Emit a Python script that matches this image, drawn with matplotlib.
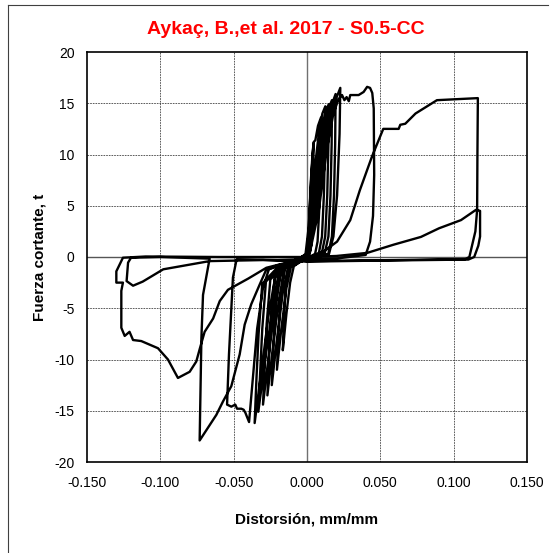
import matplotlib
matplotlib.use("Agg")
import matplotlib.pyplot as plt
from matplotlib.lines import Line2D

plt.rcParams['font.family'] = ['Liberation Sans', 'DejaVu Sans']

title = "Aykaç, B.,et al. 2017 - S0.5-CC"
x_label = "Distorsión, mm/mm"
y_label = "Fuerza cortante, t"
x_ticks = [-0.150, -0.100, -0.050, 0.000, 0.050, 0.100, 0.150]
y_ticks = [-20, -15, -10, -5, 0, 5, 10, 15, 20]

# ---- small cycles: positive loops (distortion, shear force) ----
pos1 = [(0.000, 0.3), (0.0012, 2.7), (0.0027, 7.6), (0.0038, 10.2), (0.0045, 11.1),
        (0.0043, 8.0), (0.0038, 4.0), (0.0030, 1.2), (0.0018, 0.3)]
pos2 = [(-0.001, 0.3), (0.0012, 3.0), (0.003, 8.0), (0.0045, 11.2), (0.0057, 11.4),
        (0.0075, 12.8), (0.0095, 13.6), (0.0093, 10.0), (0.0085, 5.0), (0.0072, 1.5), (0.0055, 0.3)]
pos3 = [(0.000, 0.3), (0.003, 4.0), (0.006, 9.5), (0.0085, 12.6), (0.0105, 14.0), (0.0125, 14.7),
        (0.0123, 11.0), (0.0115, 6.0), (0.0102, 2.0), (0.008, 0.3)]
pos4 = [(0.0005, 0.3), (0.004, 4.0), (0.0075, 9.8), (0.0105, 13.0), (0.0128, 14.2), (0.0148, 14.9),
        (0.0146, 11.0), (0.0138, 6.0), (0.0124, 2.0), (0.010, 0.3)]
pos5 = [(0.001, 0.3), (0.005, 4.2), (0.009, 10.0), (0.0125, 13.5), (0.015, 14.6), (0.017, 15.3),
        (0.0168, 11.0), (0.016, 6.0), (0.0146, 2.0), (0.012, 0.3)]
pos6 = [(0.001, 0.3), (0.006, 4.5), (0.0105, 10.3), (0.0145, 13.8), (0.0175, 15.1), (0.0195, 15.9),
        (0.0192, 11.0), (0.0184, 6.0), (0.017, 2.0), (0.0145, 0.3)]
pos7 = [(0.0015, 0.3), (0.006, 4.0), (0.0115, 10.0), (0.016, 13.8), (0.020, 15.5), (0.0227, 16.5),
        (0.0222, 12.0), (0.0205, 6.0), (0.018, 2.0), (0.015, 0.3)]

# ---- small cycles: negative loops ----
neg1 = [(-0.004, -0.4), (-0.009, -0.9), (-0.0115, -2.5), (-0.014, -5.5), (-0.0165, -9.1),
        (-0.0158, -6.0), (-0.0145, -3.0), (-0.012, -1.0), (-0.008, -0.5)]
neg2 = [(-0.005, -0.5), (-0.011, -1.0), (-0.014, -3.0), (-0.0175, -7.0), (-0.0205, -11.0),
        (-0.0195, -7.5), (-0.018, -4.0), (-0.0155, -1.2), (-0.010, -0.5)]
neg3 = [(-0.006, -0.5), (-0.013, -1.0), (-0.0165, -3.5), (-0.0205, -8.0), (-0.024, -12.5),
        (-0.023, -9.0), (-0.0215, -5.0), (-0.019, -1.5), (-0.012, -0.6)]
neg4 = [(-0.007, -0.6), (-0.015, -1.1), (-0.019, -4.0), (-0.023, -8.5), (-0.027, -13.5),
        (-0.026, -10.0), (-0.0245, -6.0), (-0.022, -2.0), (-0.014, -0.7)]
neg5 = [(-0.008, -0.6), (-0.017, -1.2), (-0.0215, -4.5), (-0.026, -9.5), (-0.030, -14.4),
        (-0.029, -11.0), (-0.0275, -6.5), (-0.025, -2.2), (-0.016, -0.8)]
neg6 = [(-0.009, -0.6), (-0.019, -1.3), (-0.0235, -5.0), (-0.0285, -10.0), (-0.0332, -15.1),
        (-0.032, -11.5), (-0.0305, -7.0), (-0.028, -2.4), (-0.018, -0.9)]
neg7 = [(-0.010, -0.6), (-0.021, -1.4), (-0.026, -5.5), (-0.031, -11.0), (-0.0357, -16.2),
        (-0.0345, -12.0), (-0.033, -7.5), (-0.0305, -2.6), (-0.020, -1.0)]

# ---- large cycles ----
cycA_pos = [(0.000, 0.2), (0.002, 0.5), (0.008, 4.5), (0.0135, 10.5), (0.018, 14.0), (0.0215, 15.4),
            (0.0239, 15.8), (0.0255, 15.3), (0.027, 15.6), (0.0285, 15.2), (0.0295, 15.8),
            (0.0352, 15.8), (0.0386, 16.1), (0.041, 16.6), (0.043, 16.5), (0.0445, 16.0),
            (0.0455, 14.5), (0.0458, 8.0), (0.045, 4.0), (0.043, 1.5), (0.040, 0.2),
            (0.020, -0.15), (-0.020, -0.3)]
cycA_neg = [(-0.048, -0.23), (-0.0505, -2.0), (-0.0532, -9.5), (-0.0545, -14.4), (-0.0516, -14.6),
            (-0.0489, -14.4), (-0.0477, -14.8), (-0.0448, -14.8), (-0.0432, -14.9), (-0.042, -15.2),
            (-0.0395, -16.1), (-0.037, -12.0), (-0.034, -7.0), (-0.030, -3.0), (-0.026, -1.2),
            (-0.012, -0.5)]
cycB_pos = [(0.000, -0.2), (0.005, 0.2), (0.012, 0.6), (0.0205, 1.5), (0.0295, 3.6), (0.036, 6.5),
            (0.0443, 9.8), (0.052, 12.5), (0.0625, 12.5), (0.0636, 12.9), (0.067, 13.0),
            (0.074, 14.0), (0.0886, 15.3), (0.1159, 15.5), (0.1165, 15.5), (0.1162, 10.0),
            (0.116, 4.6), (0.1148, 2.5), (0.1107, 0.0), (0.108, -0.2), (0.060, -0.3), (0.000, -0.4)]
cycB_neg = [(-0.007, -0.3), (-0.0277, -1.05), (-0.040, -2.1), (-0.0539, -3.2), (-0.0595, -4.3),
            (-0.064, -6.0), (-0.0698, -7.3), (-0.073, -8.9), (-0.0755, -10.2), (-0.080, -11.2),
            (-0.088, -11.8), (-0.0948, -10.0), (-0.1016, -8.9), (-0.113, -8.2), (-0.1186, -8.1),
            (-0.121, -7.3), (-0.1243, -7.7), (-0.1266, -6.9), (-0.1266, -3.3), (-0.1255, -2.5),
            (-0.130, -2.5), (-0.130, -1.4), (-0.1255, -0.07), (-0.110, 0.05), (-0.060, 0.0),
            (0.000, 0.0)]
cycC_pos = [(0.020, 0.1), (0.041, 0.4), (0.059, 1.2), (0.0777, 1.96), (0.090, 2.8), (0.105, 3.6),
            (0.1152, 4.6), (0.118, 4.5), (0.118, 2.0), (0.1168, 1.1), (0.114, 0.0), (0.110, -0.25),
            (0.050, -0.35), (0.000, -0.45)]
cycD_neg = [(-0.030, -0.3), (-0.0664, -0.4), (-0.0823, -0.8), (-0.098, -1.2), (-0.112, -2.4),
            (-0.1186, -2.8), (-0.123, -2.35), (-0.122, -0.55), (-0.120, -0.07), (-0.100, 0.0),
            (-0.0664, -0.16)]
cycE_neg = [(-0.0709, -3.7), (-0.072, -7.9), (-0.0732, -17.9), (-0.0664, -16.4), (-0.0618, -15.4),
            (-0.0573, -14.1), (-0.0516, -12.6), (-0.0459, -9.5), (-0.0425, -6.6), (-0.038, -4.6),
            (-0.0323, -2.7), (-0.028, -1.3), (-0.020, -0.8), (0.000, -0.3)]

segments = [pos1, neg1, pos2, neg2, pos3, neg3, pos4, neg4, pos5, neg5, pos6, neg6,
            pos7, neg7, cycA_pos, cycA_neg, cycB_pos, cycB_neg, cycC_pos, cycD_neg, cycE_neg]
path = [pt for seg in segments for pt in seg]
xs = [p[0] for p in path]
ys = [p[1] for p in path]

W, H = 554, 553
fig = plt.figure(figsize=(W / 100, H / 100), dpi=100)
fig.patch.set_facecolor('white')

L, R, T, B = 87, 527, 52, 462
ax = fig.add_axes([L / W, 1 - B / H, (R - L) / W, (B - T) / H])
ax.set_xlim(-0.15, 0.15)
ax.set_ylim(-20, 20)

# grid
for xv in x_ticks[1:-1]:
    if xv == 0:
        ax.axvline(xv, color='#707070', lw=1.0, zorder=1)
    else:
        ax.axvline(xv, color='#404040', lw=0.6, ls=(0, (2, 1.2)), zorder=1)
for yv in y_ticks[1:-1]:
    if yv == 0:
        ax.axhline(yv, color='#555555', lw=1.0, zorder=1)
    else:
        ax.axhline(yv, color='#404040', lw=0.6, ls=(0, (2, 1.2)), zorder=1)

ax.plot(xs, ys, color='black', lw=1.7, solid_joinstyle='round', zorder=3)

ax.set_xticks(x_ticks)
ax.set_xticklabels([f"{v:.3f}" for v in x_ticks])
ax.set_yticks(y_ticks)
ax.set_yticklabels([str(v) for v in y_ticks])
ax.tick_params(axis='both', length=0, labelsize=10, colors='black')
ax.tick_params(axis='x', pad=10)
ax.tick_params(axis='y', pad=9)
for s in ax.spines.values():
    s.set_linewidth(1.2)
    s.set_color('black')

fig.text(286 / W, 1 - 30 / H, title, ha='center', va='center', color='#ff0000',
         fontsize=14, fontweight='bold')
fig.text(307 / W, 1 - 519 / H, x_label, ha='center', va='center', fontsize=11, fontweight='bold')
fig.text(40 / W, 1 - 257 / H, y_label, ha='center', va='center', fontsize=11,
         fontweight='bold', rotation=90)

# outer frame (left and top edges visible)
fig.add_artist(Line2D([8 / W, 8 / W], [0, 1 - 5 / H], transform=fig.transFigure,
                      color='#404040', lw=0.8))
fig.add_artist(Line2D([8 / W, 548 / W], [1 - 5 / H, 1 - 5 / H], transform=fig.transFigure,
                      color='#404040', lw=0.8))

fig.savefig('out.png', dpi=100)
